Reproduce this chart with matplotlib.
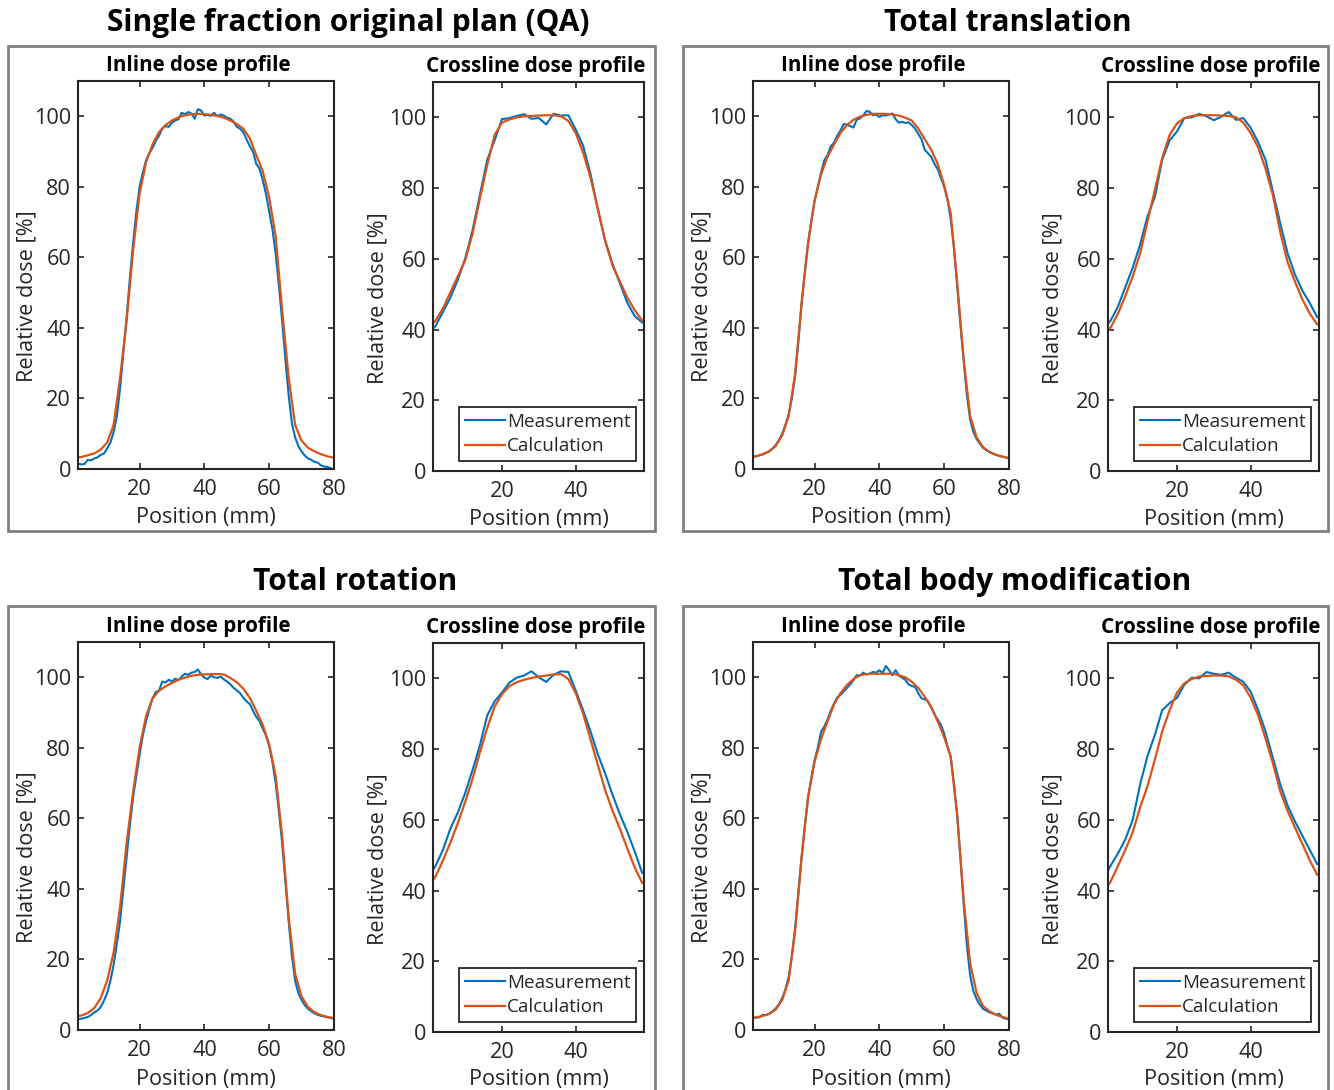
import numpy as np
import matplotlib
matplotlib.use("Agg")
import matplotlib.pyplot as plt
from matplotlib.patches import Rectangle

plt.rcParams['font.family'] = ['Open Sans', 'DejaVu Sans']

# ---------------- data ----------------
inline_meas_x = np.arange(0, 81, 1)
inline_calc_x = np.arange(0, 81, 2)
cross_x = np.arange(0, 59, 2)

panel_titles = ["Single fraction original plan (QA)", "Total translation",
                "Total rotation", "Total body modification"]
series_labels = ["Measurement", "Calculation"]

# Single fraction original plan (QA)
qa_inline_meas = [1.5, 1.5, 1.3, 1.4, 2.6, 2.4, 3.0, 3.3, 4.0, 4.4,
                  5.8, 7.5, 10.5, 15, 23, 33, 43, 54, 64, 73,
                  80, 84, 87.5, 89.5, 91, 93, 94.5, 96.5, 97.2, 97.0,
                  98.2, 98.8, 99.2, 101.0, 100.6, 101.2, 100.8, 99.3, 102.0, 101.6,
                  100.2, 100.4, 100.1, 101.0, 100.0, 100.5, 100.2, 99.6, 99.3, 98.5,
                  97.0, 96.5, 95.5, 93.5, 91.5, 90, 86.5, 85.2, 82, 78,
                  73, 68, 61, 52, 42, 31, 21, 13, 9, 6.5,
                  5, 3.8, 3.0, 2.6, 2.0, 1.8, 1.0, 0.7, 0.6, 0.2, -0.2]
qa_inline_calc = [3.2, 3.4, 3.9, 4.4, 5.5, 7.5, 12.5, 26, 42, 62,
                  78, 87, 92, 95.5, 97.5, 98.8, 99.7, 100.3, 100.6, 100.7,
                  100.6, 100.4, 100.1, 99.6, 98.8, 97.8, 96.5, 93.8, 89, 84.5,
                  77, 66, 45, 26, 12.5, 8, 6, 5, 4.2, 3.6, 3.2]
qa_cross_meas = [39, 41, 45, 49, 54, 60, 68, 78, 88, 93.5,
                 99.5, 99.8, 100.4, 100.9, 99.6, 99.8, 98.0, 101.0, 100.5, 100.6,
                 96.5, 92, 84, 74, 65, 58.5, 53, 47.5, 43.8, 42]
qa_cross_calc = [40.5, 42.5, 46, 50.5, 55, 59.5, 67, 77, 86.5, 95,
                 98.5, 99.4, 100.0, 100.3, 100.4, 100.5, 100.6, 100.6, 100.3, 99.0,
                 95.5, 90, 83, 74, 65, 58, 53.5, 49, 45.5, 42.5]

# Total translation
tr_inline_meas = [3.4, 3.5, 3.6, 3.9, 4.1, 4.6, 5.0, 5.8, 6.8, 8.2,
                  10.0, 12.5, 15.5, 20, 26.5, 36, 47, 56, 64, 70.5,
                  76, 80, 84, 87.5, 89, 91.5, 92.5, 94.5, 96, 97.8,
                  97.6, 97.2, 96.8, 99.0, 99.4, 100.2, 101.5, 101.3, 100.3, 100.5,
                  99.8, 100.3, 100.2, 100.5, 100.8, 99.2, 98.2, 98.4, 98.1, 98.3,
                  97.5, 96.5, 95.0, 93.5, 90.5, 89.5, 88.5, 86.5, 85.0, 82.5,
                  80, 76.5, 71, 63, 52, 41, 31, 21, 14, 10.5,
                  8.5, 7.2, 6.0, 5.3, 4.8, 4.4, 4.0, 3.7, 3.5, 3.3, 3.0]
tr_inline_calc = [3.3, 3.6, 4.2, 5.0, 6.5, 9.5, 15, 27, 47, 64,
                  76, 83.5, 88.5, 92, 95.3, 97.5, 99.0, 99.9, 100.4, 100.7,
                  100.7, 100.7, 100.5, 100.2, 99.6, 98.8, 96.5, 93.5, 90.5, 86.5,
                  80.5, 72.5, 53, 31, 15, 9, 6.2, 4.8, 4.0, 3.5, 3.1]
tr_cross_meas = [40, 42.5, 46.5, 52, 57.5, 64, 72, 77.5, 88, 93.5,
                 96, 99.8, 100.0, 101.0, 100.3, 99.2, 100.2, 101.5, 99.3, 99.8,
                 97, 93, 88, 79, 70, 61.5, 55.5, 51, 47.5, 43.5]
tr_cross_calc = [38.5, 40.5, 44.5, 49.5, 55, 61.5, 70.5, 79.5, 88.5, 95,
                 98.3, 99.8, 100.4, 100.6, 100.6, 100.6, 100.5, 100.4, 100.0, 98.5,
                 95.5, 91.5, 85.5, 78, 67.5, 59, 53.5, 48.5, 44.5, 41.5]

# Total rotation
rot_inline_meas = [3.2, 3.1, 3.2, 3.4, 3.7, 4.2, 5.0, 5.5, 6.5, 8.3,
                   10.5, 14, 18.5, 24.5, 31, 40, 49, 58, 66, 72,
                   78, 83.5, 87.5, 91, 94, 95.8, 96.2, 98.8, 98.5, 99.3,
                   98.8, 99.6, 99.2, 100.2, 101.0, 100.7, 101.3, 101.5, 102.2, 100.8,
                   99.9, 99.5, 100.5, 100.0, 99.8, 100.2, 99.4, 98.8, 98.0, 97.0,
                   96.3, 95.5, 94.2, 93.2, 92.4, 90.5, 88.8, 87.6, 85.5, 83.5,
                   80.5, 76, 70, 62, 53, 42, 31, 21, 14, 10.5,
                   8.5, 7, 6, 5.3, 4.7, 4.3, 4.0, 3.8, 3.6, 3.4, 3.2]
rot_inline_calc = [3.8, 4.1, 4.8, 6.2, 9.0, 14, 22, 35, 53, 67.5,
                   80, 89, 94, 96.2, 97.4, 98.4, 99.3, 99.9, 100.4, 100.7,
                   100.8, 100.9, 100.9, 100.8, 99.8, 98.6, 96.8, 94.2, 90.5, 86.5,
                   81, 72, 55, 32, 16, 9.5, 6.5, 5.0, 4.2, 3.7, 3.4]
rot_cross_meas = [43.5, 47, 51.5, 57.5, 62, 67.5, 74, 81, 89.5, 93.5,
                  96, 98.8, 100.2, 100.8, 102.0, 100.3, 99.0, 101.0, 102.0, 101.8,
                  96.5, 91, 85, 78.5, 73, 67, 61.5, 56.5, 51, 45]
rot_cross_calc = [41, 44, 48.5, 53.5, 59, 65, 71.5, 79, 86, 92,
                  95.5, 97.8, 98.9, 99.6, 100.1, 100.5, 100.8, 101.1, 101.2, 99.8,
                  95.8, 90, 82.8, 75.5, 68.3, 62.5, 57.4, 51.8, 46.5, 42.2]

# Total body modification
body_inline_meas = [3.3, 3.4, 3.5, 3.6, 4.3, 4.2, 4.6, 5.3, 6.1, 7.3,
                    9.0, 11.5, 15, 21, 29, 39, 49, 58, 66, 71.5,
                    76.5, 80, 84.5, 86, 88, 90.5, 92.5, 94.3, 95, 96,
                    97, 98, 99.2, 100.6, 100.4, 101.3, 100.8, 101.0, 101.5, 101.3,
                    102.0, 101.2, 103.2, 102.0, 100.6, 102.0, 100.5, 99.9, 99.3, 98.0,
                    97.5, 97.3, 95.5, 94.0, 93.8, 93.2, 91.5, 89.5, 88, 86.5,
                    84, 80.5, 77.5, 70, 61, 49, 36, 24, 15.5, 11,
                    8.8, 7.2, 6.0, 5.5, 5.0, 4.7, 4.4, 4.6, 3.5, 3.2, 3.0]
body_inline_calc = [3.4, 3.6, 4.0, 4.6, 5.8, 8.5, 14, 28, 49, 66,
                    76, 82.5, 87.5, 92.3, 95.5, 97.8, 99.5, 100.6, 100.9, 101.0,
                    101.0, 101.0, 101.0, 100.6, 100.0, 98.7, 97, 94.5, 91.5, 87.5,
                    83, 77.5, 61, 37, 19, 10.5, 6.8, 5.3, 4.3, 3.7, 3.2]
body_cross_meas = [43, 47, 50.5, 54.5, 60, 70, 78, 84, 91, 93,
                   94.5, 98.2, 100.2, 100.0, 101.8, 101.3, 101.0, 101.6, 100.2, 99.0,
                   96.2, 91, 85, 77.5, 70, 64, 59.5, 55.5, 51.5, 47.5]
body_cross_calc = [39.5, 42.5, 47, 51.5, 56.5, 63.5, 69.5, 77, 85, 91,
                   96, 98.6, 99.8, 100.5, 100.7, 100.8, 100.8, 100.6, 99.6, 98,
                   94.5, 89.5, 83, 76, 68, 62.5, 57.8, 53.2, 48.5, 44.5]

# ---------------- style ----------------
W, H = 1334, 1090
BLUE = "#0072BD"
ORANGE = "#D95319"
DARK = "#262626"
FRAME = "#808080"
FS = 15.6

fig = plt.figure(figsize=(W / 100, H / 100), dpi=100)


def px_axes(l, t, r, b):
    return fig.add_axes([l / W, 1 - b / H, (r - l) / W, (b - t) / H])


def style(ax, xlim, xticks):
    ax.set_xlim(*xlim)
    ax.set_ylim(0, 110)
    ax.set_xticks(xticks)
    ax.set_yticks([0, 20, 40, 60, 80, 100])
    ax.tick_params(direction='in', top=True, right=True, length=4.5, width=1.2,
                   labelsize=FS, colors=DARK)
    ax.tick_params(axis='x', pad=7)
    ax.tick_params(axis='y', pad=5)
    for s in ax.spines.values():
        s.set_linewidth(1.5)
        s.set_color(DARK)
    ax.set_xlabel("Position (mm)", fontsize=FS, color=DARK)
    ax.set_ylabel("Relative dose [%]", fontsize=FS, color=DARK)


def plot_pair(ox, oy, inl_m, inl_c, crs_m, crs_c):
    # inline axes
    ax1 = px_axes(ox + 78, oy + 81, ox + 334, oy + 469)
    ax1.plot(inline_meas_x, inl_m, color=BLUE, lw=1.5)
    ax1.plot(inline_calc_x, inl_c, color=ORANGE, lw=1.6)
    style(ax1, (1, 80), [20, 40, 60, 80])
    ax1.set_title("Inline dose profile", fontsize=14.8, fontweight='bold', pad=7,
                  x=0.47)
    ax1.xaxis.set_label_coords(0.5, -(518 - 469) / 388)
    ax1.xaxis.label.set_va('center')
    ax1.yaxis.set_label_coords((27 - 78) / 256, (469 - 296) / 388)
    ax1.yaxis.label.set_va('center')
    # crossline axes
    ax2 = px_axes(ox + 433, oy + 82, ox + 644, oy + 471)
    l1, = ax2.plot(cross_x, crs_m, color=BLUE, lw=1.5)
    l2, = ax2.plot(cross_x, crs_c, color=ORANGE, lw=1.6)
    style(ax2, (1.3, 58.5), [20, 40])
    ax2.set_title("Crossline dose profile", fontsize=14.8, fontweight='bold', pad=7,
                  x=0.485)
    ax2.xaxis.set_label_coords(0.5, -(519 - 471) / 389)
    ax2.xaxis.label.set_va('center')
    ax2.yaxis.set_label_coords((378 - 433) / 211, (471 - 298) / 389)
    ax2.yaxis.label.set_va('center')
    leg = ax2.legend([l1, l2], series_labels, loc='lower right',
                     bbox_to_anchor=(1 - 8 / 211, 10 / 389), borderaxespad=0,
                     fontsize=13.6, fancybox=False, framealpha=1,
                     handlelength=2.1, handletextpad=0.1, labelspacing=0.35,
                     borderpad=0.3)
    leg.get_frame().set_edgecolor(DARK)
    leg.get_frame().set_linewidth(1.3)
    for t in leg.get_texts():
        t.set_color(DARK)


offsets = [(0, 0), (675, 0), (0, 561), (675, 561)]
data = [(qa_inline_meas, qa_inline_calc, qa_cross_meas, qa_cross_calc),
        (tr_inline_meas, tr_inline_calc, tr_cross_meas, tr_cross_calc),
        (rot_inline_meas, rot_inline_calc, rot_cross_meas, rot_cross_calc),
        (body_inline_meas, body_inline_calc, body_cross_meas, body_cross_calc)]
title_pos = [(348, 23), (1008, 23), (355, 582), (1015, 582)]
frames = [(8, 46, 655, 531), (683, 46, 1328, 531), (8, 606, 655, 1100), (683, 606, 1328, 1100)]

for (ox, oy), d in zip(offsets, data):
    plot_pair(ox, oy, *d)

for (l, t, r, b) in frames:
    fig.patches.append(Rectangle((l / W, 1 - b / H), (r - l) / W, (b - t) / H,
                                 transform=fig.transFigure, fill=False,
                                 edgecolor=FRAME, linewidth=2, zorder=0))

for title, (cx, cy) in zip(panel_titles, title_pos):
    fig.text(cx / W, 1 - cy / H, title, ha='center', va='center',
             fontsize=21.5, fontweight='bold', color='black')

fig.savefig("out.png", dpi=100)
